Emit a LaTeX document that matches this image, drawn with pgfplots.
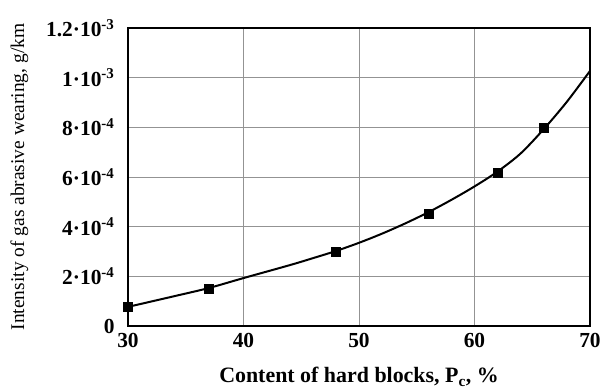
\documentclass[border=0pt]{standalone}
\usepackage{fontspec}
\setmainfont{Liberation Serif}
\usepackage{pgfplots}
\pgfplotsset{compat=1.18}
\begin{document}
\begin{tikzpicture}
\useasboundingbox (-128bp,-63bp) rectangle (478bp,326bp);
\begin{axis}[
  at={(0,0)}, anchor=south west,
  scale only axis, width=462bp, height=298bp,
  xmin=30, xmax=70, ymin=0, ymax=1.2e-3,
  xtick={30,40,50,60,70},
  ytick={0,2e-4,4e-4,6e-4,8e-4,1e-3,1.2e-3},
  yticklabels={0,
    2·10\textsuperscript{-4},
    4·10\textsuperscript{-4},
    6·10\textsuperscript{-4},
    8·10\textsuperscript{-4},
    1·10\textsuperscript{-3},
    1.2·10\textsuperscript{-3}},
  scaled y ticks=false,
  grid=major,
  major grid style={draw=gray!85, line width=0.7pt},
  axis line style={line width=1.8pt},
  tick style={draw=none},
  ticklabel style={font=\fontsize{21.5}{24}\selectfont\bfseries},
  /pgf/number format/assume math mode=true,
  yticklabel style={xshift=-10bp},
  xticklabel style={yshift=-4bp},
  xlabel={Content of hard blocks, P\textsubscript{c}, \%},
  ylabel={Intensity of gas abrasive wearing, g/km},
  xlabel style={font=\fontsize{22}{26}\selectfont\bfseries, at={(axis description cs:0.5,-0.191)}, anchor=base},
  ylabel style={font=\fontsize{19.5}{22}\selectfont, at={(axis description cs:-0.235,0.5)}, anchor=center},
]
\addplot[black, line width=2pt, smooth, tension=0.5, no marks] coordinates {
(30,0.77e-4) (34,1.20e-4) (37,1.53e-4) (40,1.93e-4) (44,2.45e-4)
(46,2.73e-4) (48,3.02e-4) (50,3.35e-4) (52,3.72e-4) (54,4.13e-4)
(56,4.58e-4) (58,5.08e-4) (60,5.62e-4) (62,6.22e-4) (64,6.95e-4)
(66,7.93e-4) (68,9.03e-4) (70,1.027e-3)
};
\addplot[only marks, mark=square*, mark size=4.5bp, black] coordinates {
(30,0.77e-4) (37,1.49e-4) (48,3.00e-4) (56,4.53e-4) (62,6.17e-4) (66,8.00e-4)
};
\end{axis}
\end{tikzpicture}
\end{document}
